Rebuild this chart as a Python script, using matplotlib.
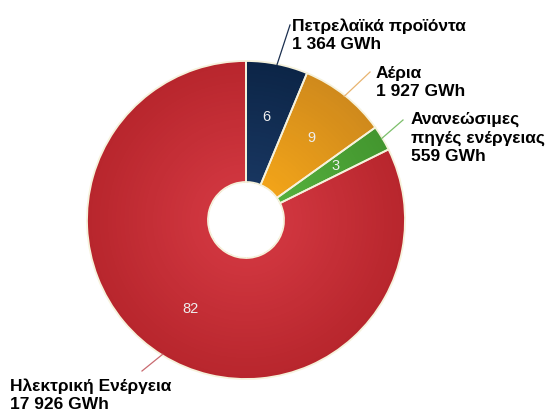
import numpy as np
import matplotlib.pyplot as plt
from matplotlib.colors import to_rgb

plt.rcParams['font.family'] = ['Liberation Sans', 'DejaVu Sans']

# energy consumption by source
sources = ['Πετρελαϊκά προϊόντα', 'Αέρια', 'Ανανεώσιμες\nπηγές ενέργειας', 'Ηλεκτρική Ενέργεια']
consumption_gwh = [1364, 1927, 559, 17926]

# slice colours: lighter towards the hole, darker at the rim
inner_colors = ['#183660', '#f2a419', '#55b03d', '#d0363f']
outer_colors = ['#0c2547', '#d08a1c', '#43962f', '#b8262d']
line_colors = ['#1b2f4f', '#e8b470', '#7cbf6a', '#c96a70']

W, H = 554, 415
cx, cy = 246, 220          # pie centre (pixels from top-left)
r_out, r_in = 159, 38

# label placement (pixels from top-left): text top-left corner and connector end
label_pos = [(292, 18), (376, 66), (411, 112), (10, 378)]
line_end = [(290, 25), (370, 72), (403, 120), (142, 371)]

fig = plt.figure(figsize=(W / 100, H / 100), dpi=100)
ax = fig.add_axes([0, 0, 1, 1])

center = (cx, H - cy)
values = np.array(consumption_gwh, dtype=float)
total = values.sum()

# radial gradient built from stacked rings
n_layers = 30
for k in range(n_layers):
    t = k / (n_layers - 1)
    r = r_out - t * (r_out - r_in - 2)
    cols = [tuple(np.array(to_rgb(o)) * (1 - t) + np.array(to_rgb(i)) * t)
            for o, i in zip(outer_colors, inner_colors)]
    ax.pie(values, radius=r, center=center, startangle=90, counterclock=False,
           colors=cols, wedgeprops=dict(width=r - r_in, linewidth=0, antialiased=True))

# slice borders
ax.pie(values, radius=r_out, center=center, startangle=90, counterclock=False,
       colors=['none'] * len(values),
       wedgeprops=dict(width=r_out - r_in, edgecolor='#f6f2dc', linewidth=1.3))

# percentage labels and outside labels with connectors
start = 90.0
for i, v in enumerate(values):
    span = v / total * 360
    mid = np.deg2rad(start - span / 2)
    start -= span

    rl = 105
    ax.text(cx + rl * np.cos(mid), H - (cy - rl * np.sin(mid)), f'{round(v / total * 100)}',
            color='#eeeeee', fontsize=10.5, ha='center', va='center')

    x0 = cx + (r_out - 1) * np.cos(mid)
    y0 = cy - (r_out - 1) * np.sin(mid)
    x1, y1 = line_end[i]
    ax.plot([x0, x1], [H - y0, H - y1], color=line_colors[i], linewidth=0.9)

    amount = f'{int(v):,}'.replace(',', ' ')
    tx, ty = label_pos[i]
    ax.text(tx, H - ty, f'{sources[i]}\n{amount} GWh', fontsize=12.5, fontweight='bold',
            color='black', ha='left', va='top', linespacing=1.27)

# pie() resets the limits, so set the pixel frame last
ax.set_xlim(0, W)
ax.set_ylim(0, H)
ax.set_aspect('equal')
ax.axis('off')

fig.savefig('out.png', dpi=100, facecolor='white')
